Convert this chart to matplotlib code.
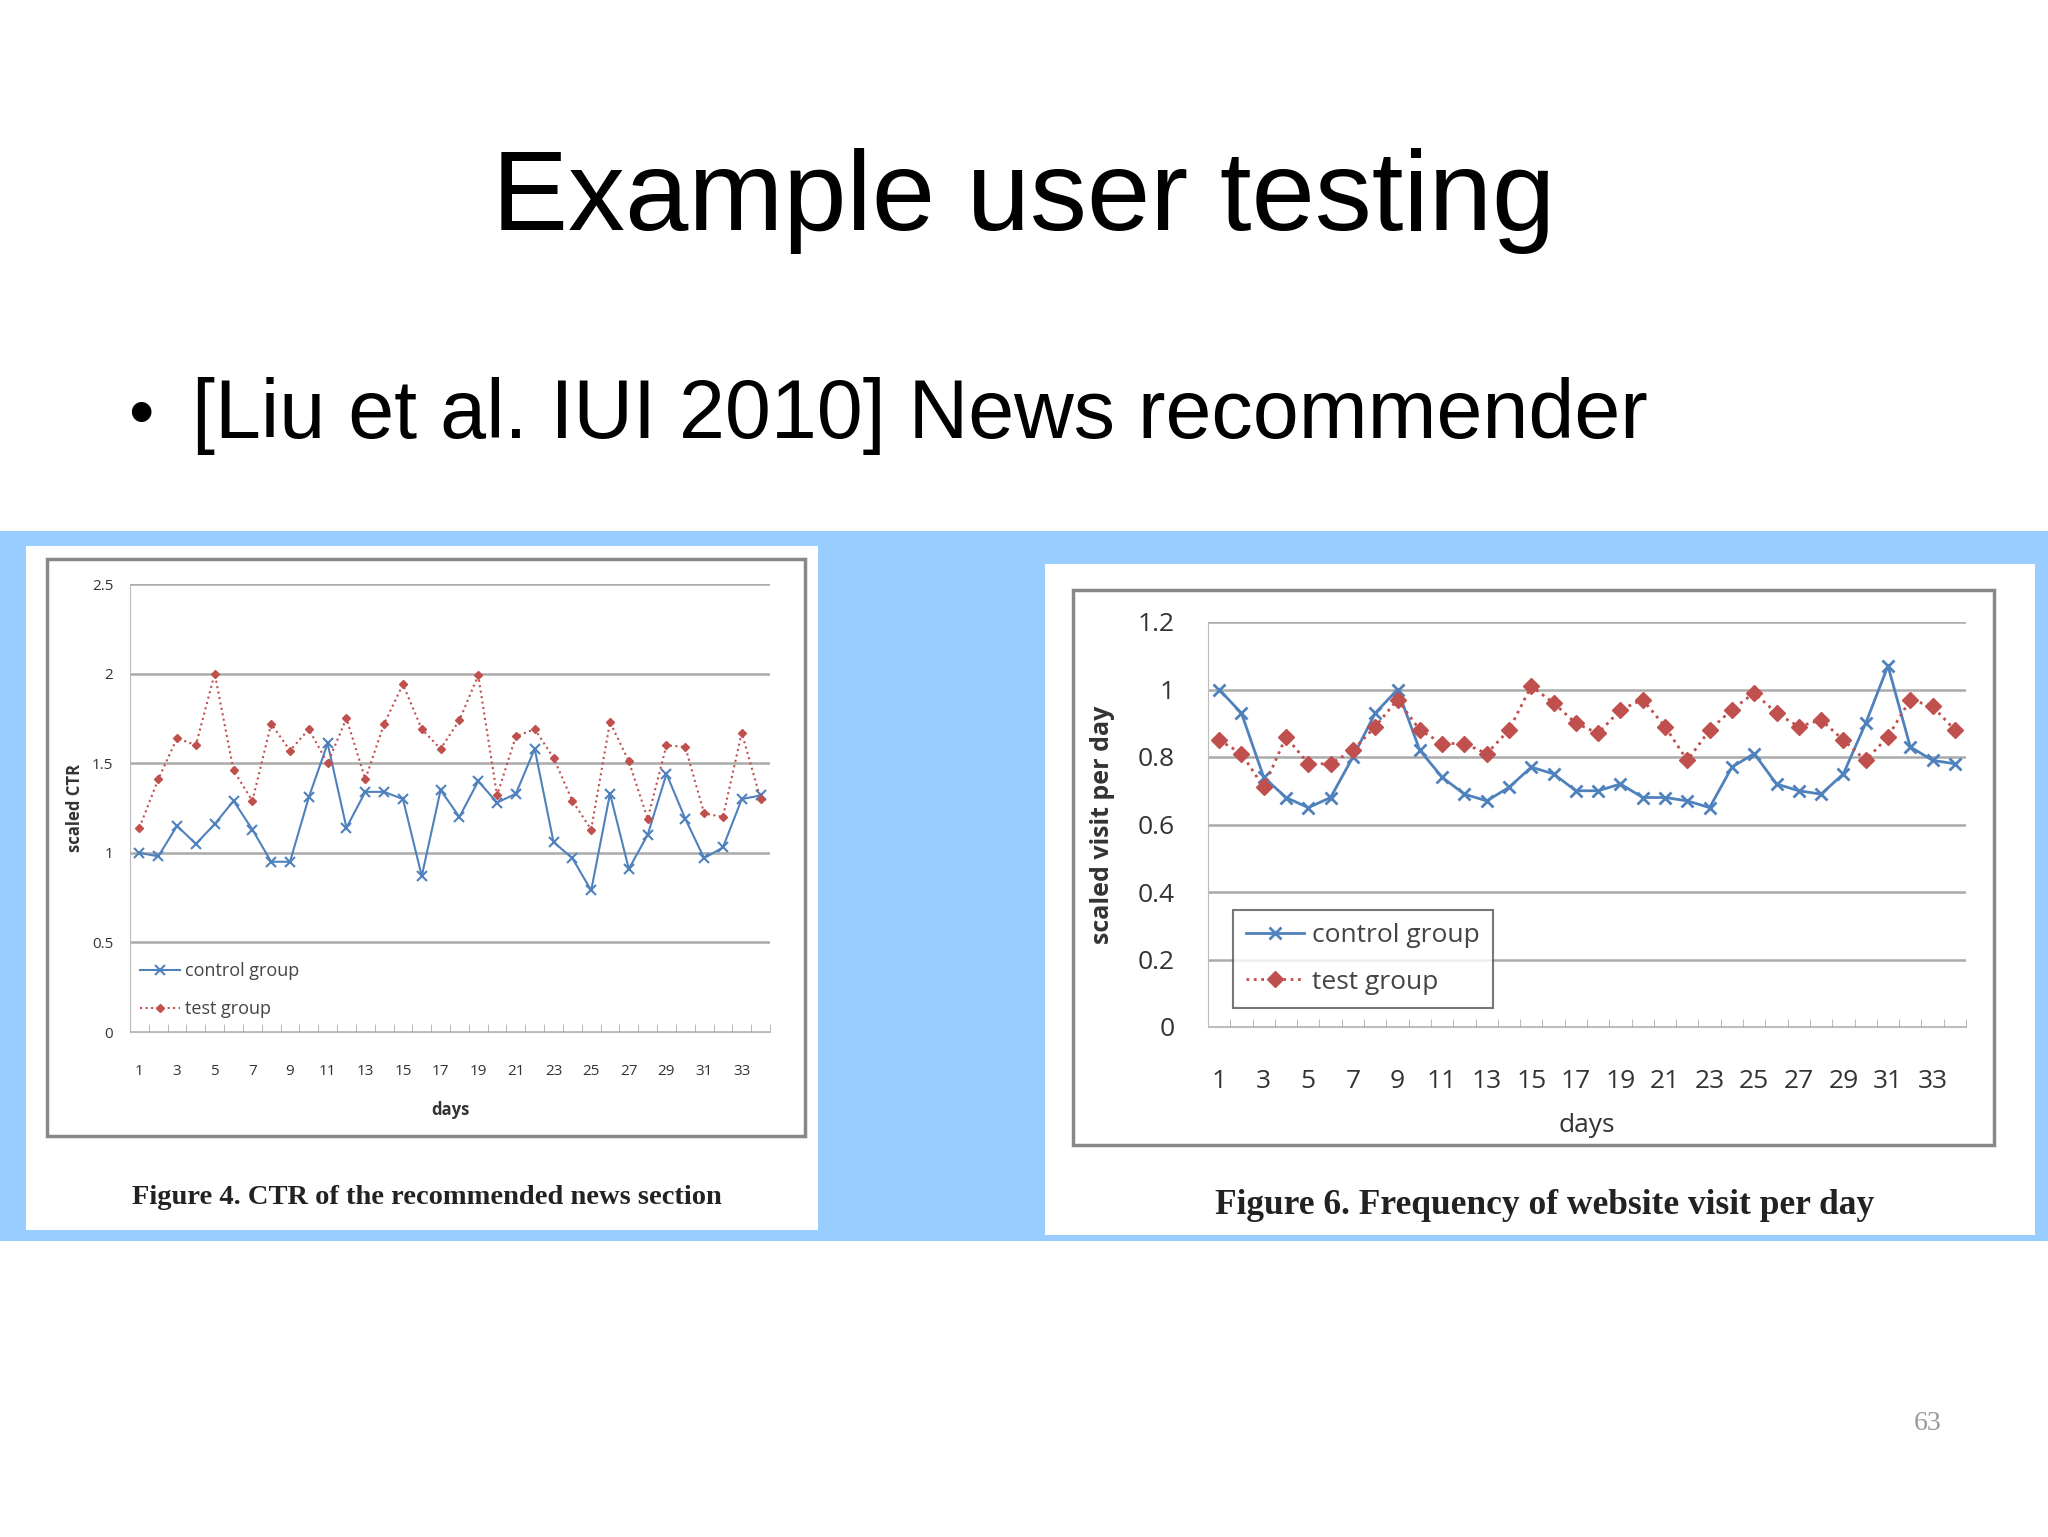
import matplotlib.pyplot as plt
import numpy as np
from matplotlib.patches import Rectangle

days = np.arange(1, 35)

# Figure 4: scaled CTR
ctr_control = [1.00, 0.98, 1.15, 1.05, 1.16, 1.29, 1.13, 0.95, 0.95, 1.31,
               1.61, 1.14, 1.34, 1.34, 1.30, 0.87, 1.35, 1.20, 1.40, 1.28,
               1.33, 1.58, 1.06, 0.97, 0.79, 1.33, 0.91, 1.10, 1.44, 1.19,
               0.97, 1.03, 1.30, 1.32]
ctr_test = [1.14, 1.41, 1.64, 1.60, 2.00, 1.46, 1.29, 1.72, 1.57, 1.69,
            1.50, 1.75, 1.41, 1.72, 1.94, 1.69, 1.58, 1.74, 1.99, 1.32,
            1.65, 1.69, 1.53, 1.29, 1.13, 1.73, 1.51, 1.19, 1.60, 1.59,
            1.22, 1.20, 1.67, 1.30]

# Figure 6: scaled visit per day
visit_control = [1.00, 0.93, 0.74, 0.68, 0.65, 0.68, 0.80, 0.93, 1.00, 0.82,
                 0.74, 0.69, 0.67, 0.71, 0.77, 0.75, 0.70, 0.70, 0.72, 0.68,
                 0.68, 0.67, 0.65, 0.77, 0.81, 0.72, 0.70, 0.69, 0.75, 0.90,
                 1.07, 0.83, 0.79, 0.78]
visit_test = [0.85, 0.81, 0.71, 0.86, 0.78, 0.78, 0.82, 0.89, 0.97, 0.88,
              0.84, 0.84, 0.81, 0.88, 1.01, 0.96, 0.90, 0.87, 0.94, 0.97,
              0.89, 0.79, 0.88, 0.94, 0.99, 0.93, 0.89, 0.91, 0.85, 0.79,
              0.86, 0.97, 0.95, 0.88]

W, H = 2048, 1537
BLUE = '#4f81bd'
RED = '#c0504d'
CHART_FONT = ['Open Sans', 'DejaVu Sans']

fig = plt.figure(figsize=(W / 100, H / 100), dpi=100)
fig.patch.set_facecolor('white')


def frect(x0, y0, x1, y1, **kw):
    # rectangle given in pixel coords from the top left
    r = Rectangle((x0 / W, 1 - y1 / H), (x1 - x0) / W, (y1 - y0) / H,
                  transform=fig.transFigure, **kw)
    fig.patches.append(r)


def fax(x0, y0, x1, y1):
    a = fig.add_axes([x0 / W, 1 - y1 / H, (x1 - x0) / W, (y1 - y0) / H])
    a.set_zorder(5)
    return a


# slide text
fig.text(1024 / W, 1 - 201 / H, 'Example user testing', ha='center', va='center',
         fontsize=82, family='Liberation Sans')
fig.text(128 / W, 1 - 418 / H, '\u2022', ha='left', va='center',
         fontsize=52, family='Liberation Sans')
fig.text(192 / W, 1 - 416 / H, '[Liu et al. IUI 2010] News recommender', ha='left',
         va='center', fontsize=59.5, family='Liberation Sans')
fig.text(1928 / W, 1 - 1424 / H, '63', ha='center', va='center', fontsize=20,
         color='#999999', family='Liberation Serif')

# blue band and white panels
frect(0, 531, W, 1241, facecolor='#99ccff', edgecolor='none', zorder=0)
frect(26, 546, 818, 1230, facecolor='white', edgecolor='none', zorder=1)
frect(1045, 564, 2035, 1235, facecolor='white', edgecolor='none', zorder=1)
frect(47, 559, 805, 1136, facecolor='none', edgecolor='#888888', lw=2.5, zorder=2)
frect(1073, 590, 1994, 1145, facecolor='none', edgecolor='#888888', lw=2.5, zorder=2)


def style_axis(ax, ymax, ystep, tick_fs, xpad, ypad):
    ax.set_xlim(0.5, 34.5)
    ax.set_ylim(0, ymax)
    ax.set_yticks(np.arange(0, ymax + 1e-9, ystep))
    ax.set_xticks(np.arange(1, 35, 2))
    ax.set_xticks(np.arange(0.5, 35, 1), minor=True)
    ax.tick_params(axis='x', which='major', length=0, labelsize=tick_fs, pad=xpad,
                   colors='#333333')
    ax.tick_params(axis='x', which='minor', length=6, color='#aaaaaa', direction='in')
    ax.tick_params(axis='y', length=0, labelsize=tick_fs, colors='#333333', pad=ypad)
    ax.grid(axis='y', color='#aaaaaa', lw=1.8)
    ax.set_axisbelow(True)
    for s in ['top', 'right']:
        ax.spines[s].set_visible(False)
    for s in ['left', 'bottom']:
        ax.spines[s].set_color('#bbbbbb')
    ax.patch.set_alpha(0)


# Figure 4
ax1 = fax(130, 584, 770, 1032)
ax1.plot(days, ctr_control, color=BLUE, lw=1.5, marker='x', ms=7, mew=1.5,
         label='control group')
ax1.plot(days, ctr_test, color=RED, lw=1.5, ls=':', marker='D', ms=4,
         label='test group')
style_axis(ax1, 2.5, 0.5, 11, 23, 12)
ax1.set_xticklabels([str(d) for d in range(1, 35, 2)], family=CHART_FONT)
ax1.set_yticklabels(['0', '0.5', '1', '1.5', '2', '2.5'], family=CHART_FONT)
ax1.set_ylabel('scaled CTR', fontsize=12, fontweight='bold', family=CHART_FONT,
               color='#333333', labelpad=6)
ax1.set_xlabel('days', fontsize=12, fontweight='bold', family=CHART_FONT,
               color='#333333', labelpad=16)
ax1.legend(loc='lower left', bbox_to_anchor=(-0.01, -0.005), frameon=False,
           prop={'family': CHART_FONT, 'size': 13}, handlelength=2.2,
           labelspacing=1.1, labelcolor='#444444', handletextpad=0.3)

# Figure 6
ax2 = fax(1208, 622, 1966, 1027)
ax2.plot(days, visit_control, color=BLUE, lw=2, marker='x', ms=9, mew=2,
         label='control group')
ax2.plot(days, visit_test, color=RED, lw=2, ls=':', marker='D', ms=8,
         label='test group')
style_axis(ax2, 1.2, 0.2, 19, 30, 24)
ax2.set_xticklabels([str(d) for d in range(1, 35, 2)], family=CHART_FONT)
ax2.set_yticklabels(['0', '0.2', '0.4', '0.6', '0.8', '1', '1.2'], family=CHART_FONT)
ax2.set_ylabel('scaled visit per day', fontsize=18, fontweight='bold', family=CHART_FONT,
               color='#333333', labelpad=16)
ax2.set_xlabel('days', fontsize=19, family=CHART_FONT, color='#333333', labelpad=14)
leg = ax2.legend(loc='lower left', bbox_to_anchor=(0.015, 0.015), frameon=True,
                 fancybox=False, prop={'family': CHART_FONT, 'size': 19},
                 handlelength=2.2, labelspacing=0.8, labelcolor='#444444',
                 handletextpad=0.3, borderpad=0.5)
leg.get_frame().set_edgecolor('#555555')
leg.get_frame().set_linewidth(1.5)

# captions
fig.text(427 / W, 1 - 1198 / H, 'Figure 4. CTR of the recommended news section',
         ha='center', va='center', fontsize=20.5, fontweight='bold',
         family='Liberation Serif', color='#222222')
fig.text(1545 / W, 1 - 1206 / H, 'Figure 6. Frequency of website visit per day',
         ha='center', va='center', fontsize=25.5, fontweight='bold',
         family='Liberation Serif', color='#222222')

fig.savefig('out.png', dpi=100)
